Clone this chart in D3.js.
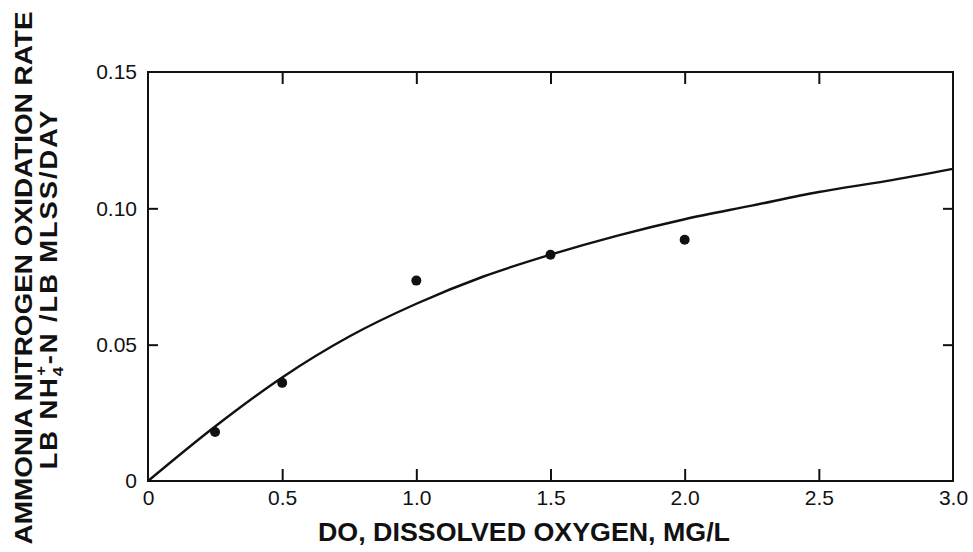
<!DOCTYPE html>
<html>
<head>
<meta charset="utf-8">
<script src="https://cdn.jsdelivr.net/npm/d3@7"></script>
<style>
  body { margin: 0; background: #fff; }
  svg text { font-family: "Liberation Sans", Arial, sans-serif; fill: #111; }
</style>
</head>
<body>
<svg id="chart" width="973" height="552"></svg>
<script>
// measured points (DO mg/L, rate)
var pointDO = [0.25, 0.5, 1.0, 1.5, 2.0];
var pointRate = [0.018, 0.036, 0.0735, 0.083, 0.0885];

// fitted curve
var curveDO = [0, 0.25, 0.5, 0.75, 1.0, 1.25, 1.5, 1.75, 2.0, 2.25, 2.5, 2.75, 3.0];
var curveRate = [0, 0.020, 0.038, 0.053, 0.065, 0.075, 0.083, 0.090, 0.096, 0.101, 0.106, 0.110, 0.1145];

var xTicks = [0, 0.5, 1.0, 1.5, 2.0, 2.5, 3.0];
var xTickLabels = ["0", "0.5", "1.0", "1.5", "2.0", "2.5", "3.0"];
var yTicks = [0, 0.05, 0.10, 0.15];
var yTickLabels = ["0", "0.05", "0.10", "0.15"];

var svg = d3.select("#chart"),
    margin = {top: 72, right: 20, bottom: 71, left: 148},
    width = 973 - margin.left - margin.right,
    height = 552 - margin.top - margin.bottom,
    g = svg.append("g").attr("transform", "translate(" + margin.left + "," + margin.top + ")");

var x = d3.scaleLinear().domain([0, 3]).range([0, width]),
    y = d3.scaleLinear().domain([0, 0.15]).range([height, 0]);

var ink = "#111";

//frame
g.append("rect")
  .attr("x", 0).attr("y", 0)
  .attr("width", width).attr("height", height)
  .attr("fill", "none").attr("stroke", ink).attr("stroke-width", 2);

//bottom axis, ticks pointing in
var xAxis = g.append("g")
  .attr("transform", "translate(0," + height + ")")
  .call(d3.axisBottom(x).tickValues(xTicks).tickSizeInner(-12).tickSizeOuter(0).tickPadding(9)
    .tickFormat(function(d, i) { return xTickLabels[i]; }));
xAxis.select(".domain").remove();
xAxis.selectAll("line").attr("stroke", ink).attr("stroke-width", 2)
  .filter(function(d) { return d === 0 || d === 3; }).remove();
xAxis.selectAll("text").style("font-size", "21px").attr("fill", ink);

//top ticks
var xTop = g.append("g")
  .call(d3.axisTop(x).tickValues(xTicks.slice(1, -1)).tickSizeInner(-12).tickSizeOuter(0).tickFormat(""));
xTop.select(".domain").remove();
xTop.selectAll("line").attr("stroke", ink).attr("stroke-width", 2);

//left axis
var yAxis = g.append("g")
  .call(d3.axisLeft(y).tickValues(yTicks).tickSizeInner(-10).tickSizeOuter(0).tickPadding(11)
    .tickFormat(function(d, i) { return yTickLabels[i]; }));
yAxis.select(".domain").remove();
yAxis.selectAll("line").attr("stroke", ink).attr("stroke-width", 2)
  .filter(function(d) { return d === 0 || d === 0.15; }).remove();
yAxis.selectAll("text").style("font-size", "21px").attr("fill", ink);

//right ticks
var yRight = g.append("g")
  .attr("transform", "translate(" + width + ",0)")
  .call(d3.axisRight(y).tickValues([0.05, 0.10]).tickSizeInner(-10).tickSizeOuter(0).tickFormat(""));
yRight.select(".domain").remove();
yRight.selectAll("line").attr("stroke", ink).attr("stroke-width", 2);

//curve
var curveData = curveDO.map(function(d, i) { return {x: d, y: curveRate[i]}; });
g.append("path")
  .datum(curveData)
  .attr("fill", "none")
  .attr("stroke", ink)
  .attr("stroke-width", 2.4)
  .attr("d", d3.line()
    .x(function(d) { return x(d.x); })
    .y(function(d) { return y(d.y); })
    .curve(d3.curveMonotoneX));

//points
g.selectAll(".dot")
  .data(pointDO.map(function(d, i) { return {x: d, y: pointRate[i]}; }))
  .enter().append("circle")
  .attr("class", "dot")
  .attr("cx", function(d) { return x(d.x); })
  .attr("cy", function(d) { return y(d.y); })
  .attr("r", 5)
  .attr("fill", ink);

//x title
svg.append("text")
  .attr("x", 524)
  .attr("y", 541)
  .attr("text-anchor", "middle")
  .attr("textLength", 412)
  .attr("lengthAdjust", "spacingAndGlyphs")
  .style("font-size", "25px")
  .style("font-weight", "bold")
  .text("DO, DISSOLVED OXYGEN, MG/L");

//y title, two lines
svg.append("text")
  .attr("transform", "translate(32,278) rotate(-90)")
  .attr("text-anchor", "middle")
  .attr("textLength", 533)
  .attr("lengthAdjust", "spacingAndGlyphs")
  .style("font-size", "24px")
  .style("font-weight", "bold")
  .text("AMMONIA NITROGEN OXIDATION RATE");

// second line stretched along its length, like the wide type of the original
var line2 = svg.append("text")
  .attr("transform", "translate(57,289) rotate(-90) scale(1.19,1)")
  .attr("text-anchor", "middle")
  .style("font-size", "23px")
  .style("font-weight", "bold")
  .style("letter-spacing", "1.6px");
line2.append("tspan").text("LB NH");
line2.append("tspan").attr("dy", 6).style("font-size", "14px").text("4");
line2.append("tspan").attr("dx", -9).attr("dy", -17).style("font-size", "14px").text("+");
line2.append("tspan").attr("dy", 11).text("-N /LB MLSS/DAY");
</script>
</body>
</html>
